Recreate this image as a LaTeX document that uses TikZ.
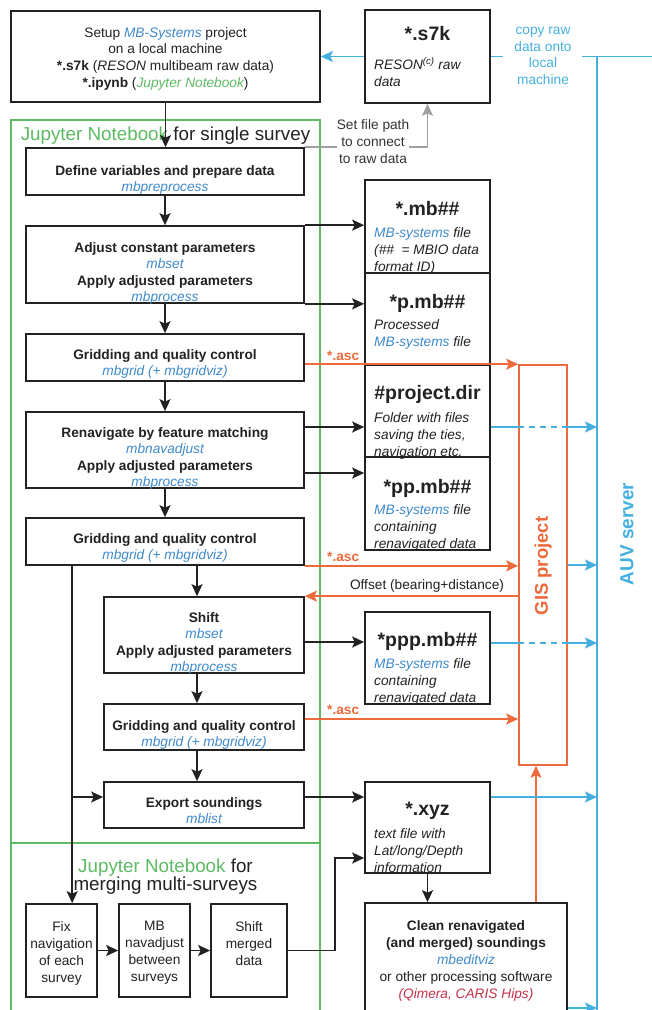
\documentclass[tikz,border=0pt]{standalone}
\usepackage{fontspec}
\setmainfont{Liberation Sans}
\usetikzlibrary{arrows.meta,calc}
\definecolor{tblack}{HTML}{222222}
\definecolor{tdark}{HTML}{333333}
\definecolor{mbblue}{HTML}{3E8ACC}
\definecolor{auvblue}{HTML}{45B0E0}
\definecolor{jgreen}{HTML}{5DBB63}
\definecolor{gorange}{HTML}{EC6A3C}
\definecolor{cred}{HTML}{C4314B}
\definecolor{garrow}{HTML}{A0A0A0}
\newcommand\bodyfs{\fontsize{13.7}{16.5}\selectfont}
\newcommand\headfs{\fontsize{19.5}{22}\selectfont\bfseries}
\newcommand\mbb[1]{\textcolor{mbblue}{\itshape #1}}
\begin{document}
\begin{tikzpicture}[x=1pt,y=-1pt,
  bx/.style={draw=tblack, line width=1.7pt, inner sep=0pt},
  gbox/.style={draw=jgreen, line width=1.3pt, inner sep=0pt},
  obox/.style={draw=gorange, line width=1.6pt, inner sep=0pt},
  t/.style={inner sep=0pt, font=\bodyfs, text=tblack, align=center, anchor=north},
  tl/.style={inner sep=0pt, font=\fontsize{13.7}{17}\selectfont\itshape, text=tblack, align=left, anchor=north west},
  hd/.style={inner sep=0pt, font=\headfs, text=tblack, anchor=north},
  tip/.style={-{Stealth[length=12pt,width=11pt,inset=2.5pt]}},
  arr/.style={tip, line width=1.6pt, draw=tblack},
  bline/.style={line width=1.6pt, draw=auvblue},
  barr/.style={bline, tip},
  oline/.style={line width=1.6pt, draw=gorange},
  oarr/.style={oline, tip},
  asc/.style={inner sep=0pt, font=\bodyfs\bfseries, text=gorange, anchor=base west}
]
\clip (0,0) rectangle (652,1010);
\fill[white] (0,0) rectangle (652,1010);

% green notebook frames
\node[gbox, minimum width=309pt, minimum height=723pt] (nb1) at (165.5,481.5) {};
\node[gbox, minimum width=309pt, minimum height=197pt] (nb2) at (165.5,941.5) {};

% boxes
\node[bx, minimum width=309pt, minimum height=91pt] (setup) at (165.5,56.5) {};
\node[bx, minimum width=125pt, minimum height=93pt] (s7k) at (427.5,56.5) {};
\node[bx, minimum width=278pt, minimum height=47pt] (define) at (165,171.5) {};
\node[bx, minimum width=278pt, minimum height=77pt] (adjust) at (165,264.5) {};
\node[bx, minimum width=278pt, minimum height=47pt] (grid1) at (165,357.5) {};
\node[bx, minimum width=278pt, minimum height=76pt] (renav) at (165,450) {};
\node[bx, minimum width=278pt, minimum height=47pt] (grid2) at (165,541.5) {};
\node[bx, minimum width=200pt, minimum height=76pt] (shift) at (204,635) {};
\node[bx, minimum width=200pt, minimum height=46pt] (grid3) at (204,727) {};
\node[bx, minimum width=200pt, minimum height=46pt] (export) at (204,805) {};
\node[bx, minimum width=125pt, minimum height=93pt] (mb) at (427.5,226.5) {};
\node[bx, minimum width=125pt, minimum height=92pt] (pmb) at (427.5,319) {};
\node[bx, minimum width=125pt, minimum height=92pt] (proj) at (427.5,411) {};
\node[bx, minimum width=125pt, minimum height=93pt] (ppmb) at (427.5,503.5) {};
\node[bx, minimum width=125pt, minimum height=92pt] (ppp) at (427.5,658) {};
\node[bx, minimum width=125pt, minimum height=91pt] (xyz) at (427.5,827.5) {};
\node[bx, minimum width=202pt, minimum height=137pt] (clean) at (466,971.5) {};
\node[bx, minimum width=71pt, minimum height=93pt] (fix) at (61.5,950.5) {};
\node[bx, minimum width=71pt, minimum height=93pt] (mbnav) at (154.5,950.5) {};
\node[bx, minimum width=76pt, minimum height=93pt] (shiftm) at (249,950.5) {};
\node[obox, minimum width=48pt, minimum height=400pt] (gis) at (543,565) {};

% texts
\node[t, font=\fontsize{13.7}{16.7}\selectfont] (tsetup) at (165.5,27) {Setup \mbb{MB-Systems} project\\on a local machine\\\textbf{*.s7k} (\textit{RESON} multibeam raw data)\\\textbf{*.ipynb} (\textcolor{jgreen}{\itshape Jupyter Notebook})};
\node[hd] (hs7k) at (427.5,26) {*.s7k};
\node[tl] (ts7k) at (374,57) {RESON\textsuperscript{(c)} raw\\data};
\node[t, text=auvblue, font=\fontsize{13.7}{16.7}\selectfont] (tcopy) at (543,27) {copy raw\\data onto\\local\\machine};
\node[t, font=\fontsize{18.8}{20}\selectfont] (tnb1) at (165.5,127) {\textcolor{jgreen}{Jupyter Notebook} for single survey};
\node[t, font=\fontsize{18.8}{18}\selectfont] (tnb2) at (165.5,859) {\textcolor{jgreen}{Jupyter Notebook} for\\merging multi-surveys};
\node[t] (tdefine) at (165,165) {\textbf{Define variables and prepare data}\\\mbb{mbpreprocess}};
\node[t] (tadjust) at (165,242) {\textbf{Adjust constant parameters}\\\mbb{mbset}\\\textbf{Apply adjusted parameters}\\\mbb{mbprocess}};
\node[t] (tgrid1) at (165,349) {\textbf{Gridding and quality control}\\\mbb{mbgrid (+ mbgridviz)}};
\node[t] (trenav) at (165,427) {\textbf{Renavigate by feature matching}\\\mbb{mbnavadjust}\\\textbf{Apply adjusted parameters}\\\mbb{mbprocess}};
\node[t] (tgrid2) at (165,533) {\textbf{Gridding and quality control}\\\mbb{mbgrid (+ mbgridviz)}};
\node[t] (tshift) at (204,612) {\textbf{Shift}\\\mbb{mbset}\\\textbf{Apply adjusted parameters}\\\mbb{mbprocess}};
\node[t] (tgrid3) at (204,720) {\textbf{Gridding and quality control}\\\mbb{mbgrid (+ mbgridviz)}};
\node[t] (texport) at (204,797) {\textbf{Export soundings}\\\mbb{mblist}};
\node[t, font=\fontsize{13.7}{17}\selectfont] (tfix) at (61.5,921) {Fix\\navigation\\of each\\survey};
\node[t, font=\fontsize{13.7}{17}\selectfont] (tmbnav) at (154.5,921) {MB\\navadjust\\between\\surveys};
\node[t, font=\fontsize{13.7}{17}\selectfont] (tshiftm) at (249,921) {Shift\\merged\\data};
\node[t, font=\fontsize{13.7}{17.2}\selectfont] (tclean) at (466,920) {\textbf{Clean renavigated}\\\textbf{(and merged) soundings}\\\mbb{mbeditviz}\\or other processing software\\\textcolor{cred}{\itshape (Qimera, CARIS Hips)}};

\node[hd] (hmb) at (427.5,201) {*.mb\#\#};
\node[tl] (tmb) at (374,227) {\mbb{MB-systems} file\\(\#\#\ \ = MBIO data\\format ID)};
\node[hd] (hpmb) at (427.5,294) {*p.mb\#\#};
\node[tl] (tpmb) at (374,319) {Processed\\\mbb{MB-systems} file};
\node[hd] (hproj) at (427.5,385) {\#project.dir};
\node[tl] (tproj) at (374,412) {Folder with files\\saving the ties,\\navigation etc.};
\node[hd] (hppmb) at (427.5,479) {*pp.mb\#\#};
\node[tl] (tppmb) at (374,504) {\mbb{MB-systems} file\\containing\\renavigated data};
\node[hd] (hppp) at (427.5,632) {*ppp.mb\#\#};
\node[tl] (tppp) at (374,658) {\mbb{MB-systems} file\\containing\\renavigated data};
\node[hd] (hxyz) at (427.5,802) {*.xyz};
\node[tl] (txyz) at (374,828) {text file with\\Lat/long/Depth\\information};

\node[rotate=90, inner sep=0pt, font=\fontsize{18.5}{20}\selectfont\bfseries, text=gorange] (tgis) at (543,566) {GIS project};
\node[rotate=90, inner sep=0pt, font=\fontsize{19}{20}\selectfont\bfseries, text=auvblue] (tauv) at (627,534) {AUV server};

\node[asc] (asc1) at (327,360) {*.asc};
\node[asc] (asc2) at (327,561) {*.asc};
\node[asc] (asc3) at (327,714) {*.asc};
\node[t, anchor=center] (toffset) at (427,586) {Offset (bearing+distance)};

% AUV server line and copy
\coordinate (auvtop) at (597,56.5);
\coordinate (auvbot) at (597,1015);
\coordinate (cp1) at (503,56.5);
\coordinate (cp2) at (582,56.5);
\coordinate (redge) at (652,56.5);
\draw[bline] (auvtop) -- (auvbot);
\draw[barr] (s7k.west) -- (setup.east);
\draw[bline] (s7k.east) -- (cp1);
\draw[bline] (cp2) -- (redge);

% gray link to raw data
\draw[garrow, line width=1.4pt, tip] (define.north east) -- (define.north east -| s7k.south) -- (s7k.south);
\node[t, fill=white, text=tdark, font=\fontsize{13.7}{17}\selectfont] (tset) at (373,119) {Set file path\\to connect\\to raw data};

% main flow
\draw[arr] (setup.south) -- (setup.south |- define.north);
\draw[arr] (define.south) -- (adjust.north);
\draw[arr] (adjust.south) -- (grid1.north);
\draw[arr] (grid1.south) -- (renav.north);
\draw[arr] (renav.south) -- (grid2.north);
\coordinate (sx) at ($(shift.north)+(-7,0)$);
\draw[arr] (sx |- grid2.south) -- (sx);
\draw[arr] (sx |- shift.south) -- (sx |- grid3.north);
\draw[arr] (sx |- grid3.south) -- (sx |- export.north);

\draw[arr] (adjust.north east) -- (adjust.north east -| mb.west);
\draw[arr] (adjust.south east) -- (adjust.south east -| pmb.west);
\coordinate (ra) at ($(renav.east)+(0,-23)$);
\coordinate (rb) at ($(renav.east)+(0,23)$);
\draw[arr] (ra) -- (ra -| proj.west);
\draw[arr] (rb) -- (rb -| ppmb.west);
\coordinate (sa) at ($(shift.east)+(0,7)$);
\draw[arr] (sa) -- (sa -| ppp.west);

% left branch
\coordinate (lx) at ($(grid2.south west)+(47,0)$);
\draw[arr] (lx) -- (lx |- fix.north);
\coordinate (ea) at ($(export.west)+(0,-8)$);
\draw[arr] (lx |- ea) -- (ea);
\coordinate (eb) at ($(export.east)+(0,-8)$);
\draw[arr] (eb) -- (eb -| xyz.west);

% merge
\draw[arr] (fix.east) -- (mbnav.west);
\draw[arr] (mbnav.east) -- (shiftm.west);
\coordinate (xa) at ($(xyz.west)+(0,30.5)$);
\coordinate (mx) at ($(shiftm.east)+(47,0)$);
\draw[arr] (shiftm.east) -- (mx) |- (xa);
\draw[arr] (xyz.south) -- (xyz.south |- clean.north);

% orange
\draw[oarr] (grid1.east |- gis.north west) -- (gis.north west);
\draw[oarr] (grid2.south east) -- (grid2.south east -| gis.west);
\coordinate (ga) at ($(grid3.east)+(0,-8)$);
\draw[oarr] (ga) -- (ga -| gis.west);
\draw[oarr] (gis.west |- shift.north east) -- (shift.north east);
\coordinate (co) at ($(clean.north)+(70,0)$);
\draw[draw=gorange, line width=1.1pt, tip] (co) -- (co |- gis.south);

% blue to AUV server
\coordinate (pa) at ($(proj.east)+(0,16)$);
\draw[bline] (pa) -- (pa -| gis.west);
\draw[bline, dash pattern=on 6pt off 5pt] (pa -| gis.west) -- (pa -| gis.east);
\draw[barr] (pa -| gis.east) -- (pa -| auvtop);
\coordinate (pp) at ($(ppp.east)+(0,-15)$);
\draw[bline] (pp) -- (pp -| gis.west);
\draw[bline, dash pattern=on 6pt off 5pt] (pp -| gis.west) -- (pp -| gis.east);
\draw[barr] (pp -| gis.east) -- (pp -| auvtop);
\draw[barr] (gis.east) -- (gis.east -| auvtop);
\coordinate (xb) at ($(xyz.east)+(0,-30.5)$);
\draw[barr] (xb) -- (xb -| auvtop);
\coordinate (cb) at ($(clean.east)+(0,36.5)$);
\draw[barr] (cb) -- (cb -| auvtop);
\end{tikzpicture}
\end{document}
